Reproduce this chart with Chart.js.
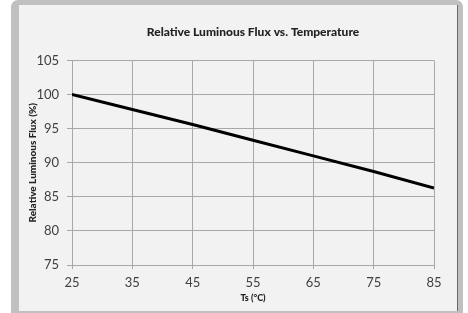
<!DOCTYPE html>
<html>
<head>
<meta charset="utf-8">
<script src="https://cdn.jsdelivr.net/npm/chart.js@4/dist/chart.umd.min.js"></script>
<style>
  html, body { margin: 0; padding: 0; background: #fff; overflow: hidden; }
  .frame {
    position: absolute; left: 11px; top: 0; width: 452px; height: 340px;
    background: #c0c0c0; border-radius: 7px;
  }
  .box {
    position: absolute; left: 19px; top: 5px; width: 438px; height: 306px;
    background: #f2f2f2; border-right: 1px solid #6a6a6a;
  }
</style>
</head>
<body>
<div class="frame"></div>
<div class="box"><canvas id="fluxChart"></canvas></div>
<script>
const temps = [25, 35, 45, 55, 65, 75, 85];
const flux = [100, 97.8, 95.6, 93.3, 91.0, 88.7, 86.3];

const gridColor = "#a8a8a8";
const tickFont = { family: "Lato", size: 13 };

const ctx = document.getElementById("fluxChart");

new Chart(ctx, {
  type: "line",
  data: {
    datasets: [
      {
        data: temps.map((t, i) => ({ x: t, y: flux[i] })),
        borderColor: "#000",
        borderWidth: 3,
        pointRadius: 0,
        tension: 0,
      },
    ],
  },
  options: {
    responsive: true,
    maintainAspectRatio: false,
    animation: false,
    layout: { padding: { left: 0, right: 23, top: 0, bottom: 0 } },
    scales: {
      x: {
        type: "linear",
        min: 25,
        max: 85,
        ticks: { stepSize: 10, color: "#404040", font: tickFont, padding: 6, maxRotation: 0 },
        grid: { color: gridColor, tickLength: 4, tickColor: gridColor },
        border: { color: gridColor },
        title: {
          display: true,
          text: "Ts (°C)",
          color: "#222",
          font: { family: "Lato", size: 9, weight: "900" },
          padding: { top: 0, bottom: 8 },
        },
        afterFit: (scale) => { scale.height = 46; },
      },
      y: {
        min: 75,
        max: 105,
        ticks: { stepSize: 5, color: "#404040", font: tickFont, padding: 8 },
        grid: { color: gridColor, tickLength: 5, tickColor: gridColor },
        border: { color: gridColor },
        title: {
          display: true,
          text: "Relative Luminous Flux (%)",
          color: "#222",
          font: { family: "Lato", size: 10, weight: "900" },
          padding: { top: 8, bottom: 0 },
        },
        afterFit: (scale) => { scale.width = 53; },
      },
    },
    plugins: {
      legend: { display: false },
      tooltip: { enabled: false },
      title: {
        display: true,
        fullSize: false,
        text: "Relative Luminous Flux vs. Temperature",
        color: "#222",
        font: { family: "Lato", size: 12, weight: "900" },
        padding: { top: 20, bottom: 21 },
      },
    },
  },
});
</script>
</body>
</html>
